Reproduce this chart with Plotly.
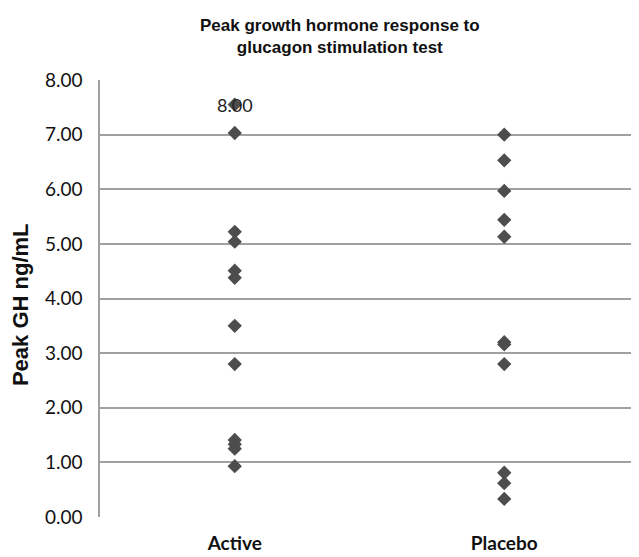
import plotly.graph_objects as go

categories = ["Active", "Placebo"]
active_values = [7.55, 7.03, 5.22, 5.04, 4.51, 4.38, 3.50, 2.80, 1.41, 1.33, 1.25, 0.93]
placebo_values = [7.00, 6.53, 5.97, 5.44, 5.13, 3.20, 3.16, 2.80, 0.81, 0.62, 0.33]
label_text = "8.00"
y_ticks = [0, 1, 2, 3, 4, 5, 6, 7, 8]
y_ticktext = ["%.2f" % v for v in y_ticks]

marker = dict(symbol="diamond", size=11, color="#4d4d4d")
fig = go.Figure()
fig.add_trace(go.Scatter(x=[categories[0]] * len(active_values), y=active_values, mode="markers",
                         marker=marker, showlegend=False))
fig.add_trace(go.Scatter(x=[categories[1]] * len(placebo_values), y=placebo_values, mode="markers",
                         marker=marker, showlegend=False))
fig.add_annotation(x=categories[0], y=active_values[0], text=label_text, showarrow=False,
                   font=dict(family="Lato, Liberation Sans", size=18, color="#222222"))
fig.add_annotation(xref="paper", yref="paper", x=0, y=0.485, xshift=-80, xanchor="center",
                   yanchor="middle", textangle=-90, showarrow=False,
                   text="<b>Peak GH ng/mL</b>",
                   font=dict(family="Liberation Sans, Arial", size=22, color="#111111"))
fig.add_annotation(xref="paper", yref="paper", x=0.445, y=1.15, xanchor="center",
                   yanchor="top", showarrow=False,
                   text="<b>Peak growth hormone response to<br>glucagon stimulation test</b>",
                   font=dict(family="Liberation Sans, Arial", size=17, color="#111111"))

fig.update_layout(
    width=631, height=549,
    margin=dict(l=92, r=0, t=72, b=40),
    paper_bgcolor="white", plot_bgcolor="white",
    font=dict(family="Liberation Sans, Arial", color="#111111"),
)
fig.update_xaxes(type="category", categoryorder="array", categoryarray=categories,
                 range=[-0.5, 1.5],
                 tickvals=categories, ticktext=["<b>" + c + "</b>" for c in categories],
                 showgrid=False, zeroline=False, showline=False,
                 tickfont=dict(family="Lato", size=19), ticks="", ticklabelstandoff=13)
fig.update_yaxes(range=[0, 8], tickvals=y_ticks, ticktext=y_ticktext,
                 showgrid=True, gridcolor="#a0a0a0", gridwidth=1.5,
                 zeroline=False, showline=True, linecolor="#a0a0a0", linewidth=1.5,
                 ticks="", ticklabelstandoff=12,
                 tickfont=dict(family="Lato", size=19))
fig.write_html("out.html")
